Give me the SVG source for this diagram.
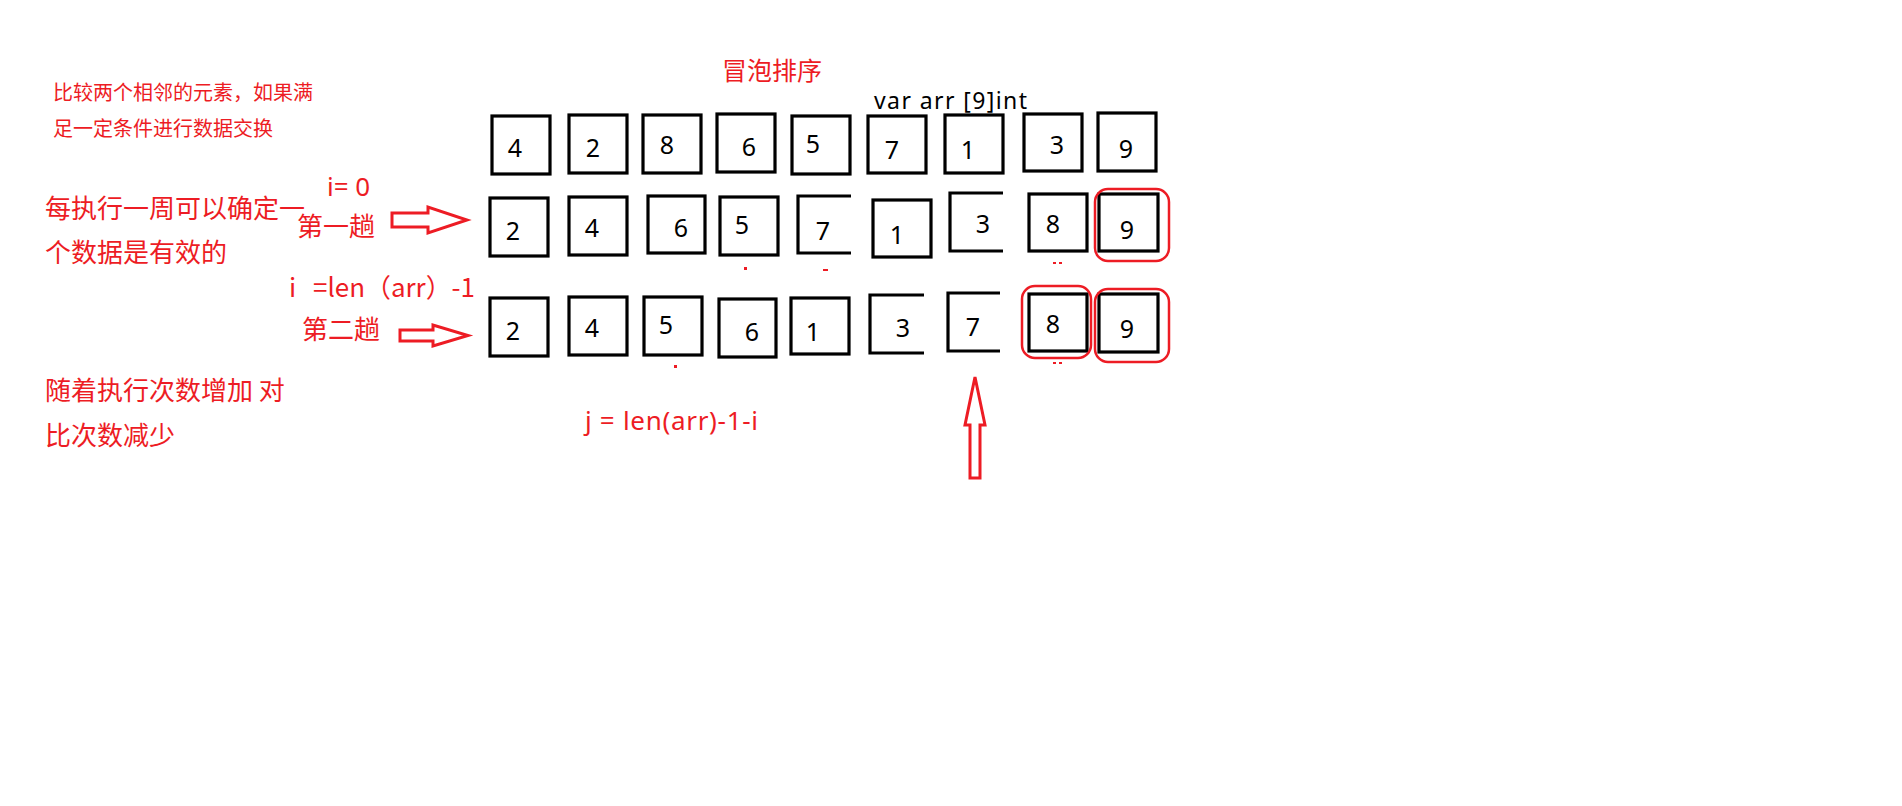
<svg xmlns="http://www.w3.org/2000/svg" width="1902" height="806" viewBox="0 0 1902 806">
<style>
.box{fill:none;stroke:#000;stroke-width:3.2}
.br{fill:none;stroke:#000;stroke-width:3.2}
.num{font-family:"Noto Sans","Open Sans",sans-serif;font-size:25px;fill:#000;text-anchor:middle}
.red{font-family:"Noto Sans","Noto Sans CJK SC",sans-serif;fill:#ed1c24}
.cjk{font-family:"Noto Sans CJK SC",sans-serif;fill:#ed1c24}
.hl{fill:none;stroke:#ed1c24;stroke-width:2.5}
.arr{fill:#fff;stroke:#ed1c24;stroke-width:3}
.mk{fill:#ed1c24}
</style>
<rect width="1902" height="806" fill="#fff"/>
<g id="notes">
<text class="cjk" x="53" y="100" font-size="20">比较两个相邻的元素，如果满</text>
<text class="cjk" x="53" y="136" font-size="20">足一定条件进行数据交换</text>
<text class="cjk" x="45" y="218" font-size="26">每执行一周可以确定一</text>
<text class="cjk" x="45" y="262" font-size="26">个数据是有效的</text>
<text class="cjk" x="45" y="400" font-size="26">随着执行次数增加 对</text>
<text class="cjk" x="45" y="445" font-size="26">比次数减少</text>
<text class="cjk" x="722" y="80" font-size="25">冒泡排序</text>
<text x="874" y="109" font-family="Noto Sans,Open Sans,sans-serif" font-size="23" fill="#000" textLength="153">var arr [9]int</text>
<text class="red" x="327" y="196" font-size="26">i= 0</text>
<text class="cjk" x="297" y="236" font-size="26">第一趟</text>
<text class="cjk" y="297" font-size="26"><tspan x="289">i</tspan><tspan x="313" textLength="162" lengthAdjust="spacingAndGlyphs">=len（arr）-1</tspan></text>
<text class="cjk" x="302" y="339" font-size="26">第二趟</text>
<text class="red" x="585" y="430" font-size="26" textLength="173">j = len(arr)-1-i</text>
</g>
<g id="row1">
<rect class="box" x="492" y="116" width="58" height="58"/><text class="num" x="515" y="157">4</text>
<rect class="box" x="569" y="115" width="58" height="58"/><text class="num" x="593" y="157">2</text>
<rect class="box" x="643" y="115" width="58" height="58"/><text class="num" x="667" y="154">8</text>
<rect class="box" x="717" y="114" width="58" height="58"/><text class="num" x="749" y="156">6</text>
<rect class="box" x="792" y="116" width="58" height="58"/><text class="num" x="813" y="153">5</text>
<rect class="box" x="868" y="116" width="58" height="57"/><text class="num" x="892" y="159">7</text>
<rect class="box" x="945" y="115" width="58" height="58"/><text class="num" x="968" y="159">1</text>
<rect class="box" x="1024" y="114" width="58" height="57"/><text class="num" x="1057" y="154">3</text>
<rect class="box" x="1098" y="113" width="58" height="58"/><text class="num" x="1126" y="158">9</text>
</g>
<g id="row2">
<rect class="box" x="490" y="198" width="58" height="58"/><text class="num" x="513" y="240">2</text>
<rect class="box" x="569" y="197" width="58" height="58"/><text class="num" x="592" y="237">4</text>
<rect class="box" x="648" y="196" width="57" height="57"/><text class="num" x="681" y="237">6</text>
<rect class="box" x="720" y="197" width="58" height="58"/><text class="num" x="742" y="234">5</text>
<path class="br" d="M851,196 H798 V253 H851"/><text class="num" x="823" y="240">7</text>
<rect class="box" x="873" y="200" width="58" height="57"/><text class="num" x="897" y="244">1</text>
<path class="br" d="M1003,193 H950 V251 H1003"/><text class="num" x="983" y="233">3</text>
<rect class="box" x="1029" y="194" width="58" height="57"/><text class="num" x="1053" y="233">8</text>
<rect class="box" x="1099" y="194" width="59" height="57"/><text class="num" x="1127" y="239">9</text>
<rect class="hl" x="1095" y="189" width="74" height="72" rx="13"/>
</g>
<g id="row3">
<rect class="box" x="490" y="298" width="58" height="58"/><text class="num" x="513" y="340">2</text>
<rect class="box" x="569" y="297" width="58" height="58"/><text class="num" x="592" y="337">4</text>
<rect class="box" x="644" y="297" width="58" height="58"/><text class="num" x="666" y="334">5</text>
<rect class="box" x="719" y="299" width="57" height="58"/><text class="num" x="752" y="341">6</text>
<rect class="box" x="791" y="298" width="58" height="56"/><text class="num" x="813" y="341">1</text>
<path class="br" d="M924,295 H870 V353 H924"/><text class="num" x="903" y="337">3</text>
<path class="br" d="M1000,293 H948 V351 H1000"/><text class="num" x="973" y="336">7</text>
<rect class="box" x="1029" y="294" width="58" height="57"/><text class="num" x="1053" y="333">8</text>
<rect class="box" x="1099" y="294" width="59" height="58"/><text class="num" x="1127" y="338">9</text>
<rect class="hl" x="1022" y="286" width="69" height="72" rx="13"/>
<rect class="hl" x="1095" y="289" width="74" height="73" rx="13"/>
</g>
<g id="marks">
<rect class="mk" x="744" y="267" width="3" height="3"/>
<rect class="mk" x="823" y="269" width="5" height="2"/>
<rect class="mk" x="1053" y="262" width="3" height="2"/>
<rect class="mk" x="1059" y="262" width="3" height="2"/>
<rect class="mk" x="674" y="365" width="3" height="3"/>
<rect class="mk" x="1053" y="362" width="3" height="2"/>
<rect class="mk" x="1059" y="362" width="3" height="2"/>
</g>
<g id="connectors">
<polygon class="arr" points="392,213 428,213 428,207 467,220 428,233 428,227 392,227"/>
<polygon class="arr" points="400,330 433,330 433,325 468,335.5 433,346 433,341 400,341"/>
<polygon class="arr" points="975,377 985,425 980,425 980,478 970,478 970,425 965,425"/>
</g>
</svg>
